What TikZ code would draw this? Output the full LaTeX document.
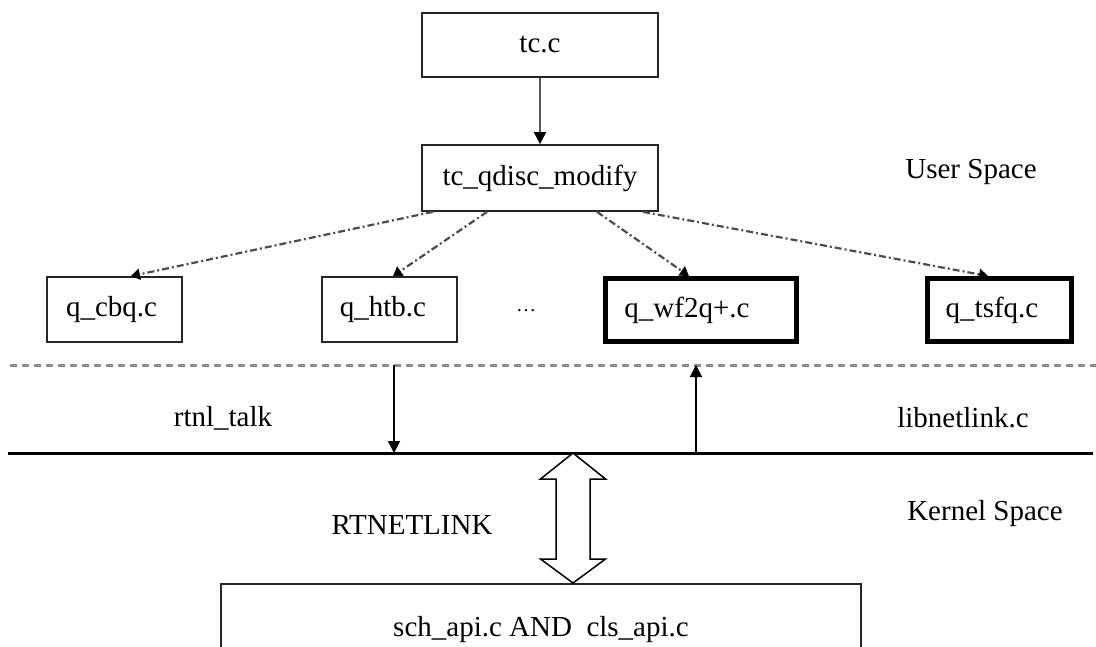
\documentclass[tikz,border=0pt]{standalone}
\usepackage{fontspec}
\setmainfont{Liberation Serif}
\usetikzlibrary{arrows.meta,calc}
\begin{document}
\begin{tikzpicture}[x=1pt,y=-1pt,
  every node/.style={font=\fontsize{29}{33}\selectfont, inner sep=0pt, text=black},
  box/.style={draw=black!85, line width=1.7pt, fill=white},
  heavybox/.style={draw=black, line width=5pt, fill=white},
  solidarrow/.style={line width=1.8pt, -{Triangle[width=12pt,length=12pt,color=black]}},
  calls/.style={draw=black!70, line width=2.2pt, dash pattern=on 7pt off 3pt on 2pt off 3pt,
    -{Triangle[width=11pt,length=9pt,color=black]}},
  boundary/.style={draw=black!45, line width=3pt, dash pattern=on 7pt off 5pt},
  layer/.style={draw=black, line width=3pt},
  label/.style={}
]
\useasboundingbox (0,0) rectangle (1096,646);
\clip (0,0) rectangle (1096,646);

% user-space call chain
\node[box, minimum width=236pt, minimum height=64pt] (tc) at (540,45) {tc.c};
\node[box, minimum width=236pt, minimum height=66pt] (qdisc) at (540,178) {tc\_qdisc\_modify};
\draw[solidarrow, draw=black!65] (tc.south) -- (qdisc.north);

% queueing discipline modules (names sit slightly left of box centre)
\node[box, minimum width=135pt, minimum height=65pt] (cbq) at (114.5,309.5) {\hspace*{-6pt}q\_cbq.c};
\node[box, minimum width=135pt, minimum height=65pt] (htb) at (389.5,309.5) {\hspace*{-13pt}q\_htb.c};
\node[label] (dots) at (526,311) {\fontsize{20}{24}\selectfont\dots};
\node[heavybox, minimum width=191pt, minimum height=63pt] (wf2q) at (701,310) {\hspace*{-28pt}q\_wf2q+.c};
\node[heavybox, minimum width=144pt, minimum height=63pt] (tsfq) at (999.5,310) {\hspace*{-15pt}q\_tsfq.c};

\draw[calls] ([xshift=-107pt]qdisc.south) -- ([xshift=16.5pt]cbq.north);
\draw[calls] ([xshift=-53pt]qdisc.south) -- ([xshift=3.5pt]htb.north);
\draw[calls] ([xshift=57pt]qdisc.south) -- ([xshift=-12pt]wf2q.north);
\draw[calls] ([xshift=103pt]qdisc.south) -- ([xshift=-11.5pt]tsfq.north);

% space labels
\node[label] (user) at (971,172) {User Space};
\node[label] (kernel) at (985,514) {Kernel Space};

% user/library boundary and library/kernel boundary
\coordinate (bL) at (10,365);
\coordinate (bR) at (1096,365);
\coordinate (kL) at (8,453);
\coordinate (kR) at (1093,453);
\draw[boundary] (bL) -- (bR);
\draw[layer] (kL) -- (kR);

\coordinate (sendTop) at (394,365);
\coordinate (sendBot) at (394,453);
\coordinate (recvBot) at (696,453);
\coordinate (recvTop) at (696,365);
\draw[solidarrow] (sendTop) -- (sendBot);
\draw[solidarrow] (recvBot) -- (recvTop);

\node[label] (talk) at (223,418) {rtnl\_talk};
\node[label] (libnl) at (963,418) {libnetlink.c};

% kernel side
\node[box, minimum width=640pt, minimum height=94pt, anchor=north] (api) at (541,583) {};
\node[label] (apitext) at (541,630) {sch\_api.c AND\ \ cls\_api.c};
\node[label] (rtnl) at (412,525) {RTNETLINK};

\coordinate (up) at (573,453);
\coordinate (dn) at ([xshift=32pt]api.north);
\draw[line width=1.5pt, fill=white]
  (up) -- ($(up)+(32.5,26)$) -- ($(up)+(17,26)$) -- ($(dn)+(17,-24)$)
  -- ($(dn)+(32.5,-24)$) -- (dn) -- ($(dn)+(-32.5,-24)$) -- ($(dn)+(-17,-24)$)
  -- ($(up)+(-17,26)$) -- ($(up)+(-32.5,26)$) -- cycle;
\end{tikzpicture}
\end{document}
